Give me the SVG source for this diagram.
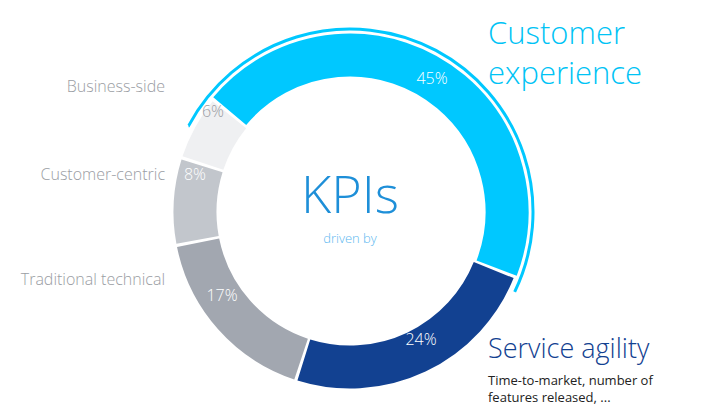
<svg xmlns="http://www.w3.org/2000/svg" width="720" height="414" viewBox="0 0 720 414">
<style>
.seg{fill:none;stroke-width:43}
.pct{font-family:"Open Sans","Liberation Sans",sans-serif;font-weight:300;font-size:16px;fill:#fff;text-anchor:middle}
.side{font-family:"Open Sans","Liberation Sans",sans-serif;font-weight:300;font-size:16px;fill:#9a9da3;text-anchor:end}
</style>
<rect width="720" height="414" fill="#fff"/>
<g id="cx">
<circle class="seg" cx="350" cy="212" r="157" pathLength="100" stroke="#00C8FF" stroke-dasharray="44.7 55.3" transform="rotate(220 350 212)"/>
<circle cx="350" cy="212" r="183" fill="none" stroke="#00C8FF" stroke-width="3" pathLength="100" stroke-dasharray="49.4 50.6" transform="rotate(208 350 212)"/>
<text class="pct" x="432" y="84">45%</text>
<text x="488" y="44" font-family="Open Sans, Liberation Sans, sans-serif" font-weight="300" font-size="31" fill="#00C3F5">Customer</text>
<text x="488" y="84" font-family="Open Sans, Liberation Sans, sans-serif" font-weight="300" font-size="31" fill="#00C3F5">experience</text>
</g>
<g id="sa">
<circle class="seg" cx="350" cy="212" r="155" pathLength="100" stroke="#124191" stroke-dasharray="23.7 76.3" transform="rotate(22 350 212)"/>
<text class="pct" x="421" y="345">24%</text>
<text x="488" y="358" font-family="Open Sans, Liberation Sans, sans-serif" font-weight="300" font-size="27" fill="#124191">Service agility</text>
<text x="488" y="385" font-family="Open Sans, Liberation Sans, sans-serif" font-size="13" fill="#222">Time-to-market, number of</text>
<text x="488" y="402" font-family="Open Sans, Liberation Sans, sans-serif" font-size="13" fill="#222">features released, ...</text>
</g>
<g id="tt">
<circle class="seg" cx="350" cy="212" r="155" pathLength="100" stroke="#A2A7B0" stroke-dasharray="16.7 83.3" transform="rotate(108.4 350 212)"/>
<text class="pct" x="222" y="301">17%</text>
<text class="side" x="165" y="285">Traditional technical</text>
</g>
<g id="cc">
<circle class="seg" cx="350" cy="212" r="155" pathLength="100" stroke="#C2C6CC" stroke-dasharray="7.7 92.3" transform="rotate(169.6 350 212)"/>
<text class="pct" x="195" y="180">8%</text>
<text class="side" x="165" y="180">Customer-centric</text>
</g>
<g id="bs">
<circle class="seg" cx="350" cy="212" r="155" pathLength="100" stroke="#EFF0F2" stroke-dasharray="5.7 94.3" transform="rotate(198.4 350 212)"/>
<text class="pct" x="213" y="117" style="fill:#9a9da3">6%</text>
<text class="side" x="165" y="92">Business-side</text>
</g>
<g id="center">
<text x="350" y="213" text-anchor="middle" font-family="Open Sans, Liberation Sans, sans-serif" font-weight="300" font-size="52" fill="#1E8FD8">KPIs</text>
<text x="350" y="243" text-anchor="middle" font-family="Open Sans, Liberation Sans, sans-serif" font-weight="300" font-size="13" fill="#5BB8F0">driven by</text>
</g>
<g id="connectors"/>
</svg>
